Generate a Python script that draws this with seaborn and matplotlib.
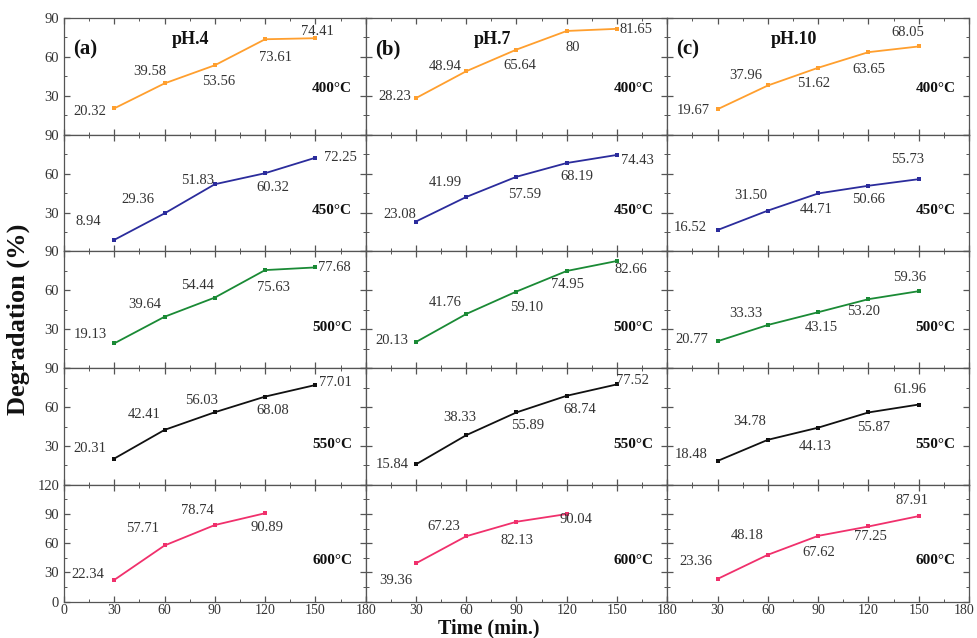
import matplotlib
matplotlib.use("Agg")
import matplotlib.pyplot as plt
from matplotlib.ticker import MultipleLocator
from matplotlib.transforms import ScaledTranslation
import numpy as np
import pandas as pd
import seaborn as sns

# ---- data -----------------------------------------------------------------
times = [30, 60, 90, 120, 150]
temperatures = [400, 450, 500, 550, 600]
ph_levels = ["pH.4", "pH.7", "pH.10"]
panel_tags = ["(a)", "(b)", "(c)"]

# degradation (%) at each calcination temperature, as printed on the points
ph4_400 = ["20.32", "39.58", "53.56", "73.61", "74.41"]
ph4_450 = ["8.94", "29.36", "51.83", "60.32", "72.25"]
ph4_500 = ["19.13", "39.64", "54.44", "75.63", "77.68"]
ph4_550 = ["20.31", "42.41", "56.03", "68.08", "77.01"]
ph4_600 = ["22.34", "57.71", "78.74", "90.89"]

ph7_400 = ["28.23", "48.94", "65.64", "80", "81.65"]
ph7_450 = ["23.08", "41.99", "57.59", "68.19", "74.43"]
ph7_500 = ["20.13", "41.76", "59.10", "74.95", "82.66"]
ph7_550 = ["15.84", "38.33", "55.89", "68.74", "77.52"]
ph7_600 = ["39.36", "67.23", "82.13", "90.04"]

ph10_400 = ["19.67", "37.96", "51.62", "63.65", "68.05"]
ph10_450 = ["16.52", "31.50", "44.71", "50.66", "55.73"]
ph10_500 = ["20.77", "33.33", "43.15", "53.20", "59.36"]
ph10_550 = ["18.48", "34.78", "44.13", "55.87", "61.96"]
ph10_600 = ["23.36", "48.18", "67.62", "77.25", "87.91"]

series = {
    "pH.4": [ph4_400, ph4_450, ph4_500, ph4_550, ph4_600],
    "pH.7": [ph7_400, ph7_450, ph7_500, ph7_550, ph7_600],
    "pH.10": [ph10_400, ph10_450, ph10_500, ph10_550, ph10_600],
}

rows = []
for ph in ph_levels:
    for temp, vals in zip(temperatures, series[ph]):
        for t, v in zip(times, vals):
            rows.append({"pH": ph, "temp": temp, "time": t,
                         "deg": float(v), "label": v})
df = pd.DataFrame(rows)

# ---- styling --------------------------------------------------------------
line_colors = {400: "#FF9F2E", 450: "#2B2C9C", 500: "#1A8A35",
               550: "#111111", 600: "#F0306C"}

# value-label offsets (pixels) relative to each point
label_offsets = {
    "pH.4": [
        [(-24, -3), (-15, 12), (4, -16), (10, -18), (2, 7)],
        [(-26, 18), (-27, 14), (-17, 4), (8, -14), (25, 0)],
        [(-24, 9), (-20, 12), (-17, 12), (8, -17), (19, 0)],
        [(-24, 10), (-20, 15), (-13, 12), (8, -14), (20, 3)],
        [(-26, 5), (-22, 17), (-17, 15), (2, -14)],
    ],
    "pH.7": [
        [(-21, 2), (-21, 5), (3, -16), (6, -17), (19, -1)],
        [(-16, 7), (-21, 14), (8, -18), (10, -13), (20, -6)],
        [(-24, 2), (-21, 12), (10, -16), (1, -14), (14, -9)],
        [(-24, 0), (-6, 18), (11, -13), (13, -14), (15, 4)],
        [(-20, -17), (-22, 10), (1, -19), (9, -5)],
    ],
    "pH.10": [
        [(-24, -1), (-22, 10), (-5, -16), (0, -17), (-11, 14)],
        [(-27, 3), (-17, 15), (-2, -16), (0, -14), (-11, 20)],
        [(-26, 2), (-22, 11), (3, -15), (-5, -12), (-9, 14)],
        [(-26, 6), (-18, 18), (-3, -19), (5, -15), (-9, 15)],
        [(-22, 17), (-21, 19), (1, -17), (2, -10), (-7, 16)],
    ],
}

sns.set_style("ticks")
plt.rcParams["font.family"] = ["Liberation Serif", "DejaVu Serif"]
plt.rcParams["axes.edgecolor"] = "#555555"
plt.rcParams["axes.linewidth"] = 0.9

fig, axes = plt.subplots(5, 3, figsize=(9.77, 6.38), dpi=100)
fig.subplots_adjust(left=0.0655, right=0.9918, top=0.9718, bottom=0.057,
                    hspace=0, wspace=0)

text_color = "#333333"

for c, ph in enumerate(ph_levels):
    for r, temp in enumerate(temperatures):
        ax = axes[r, c]
        sub = df[(df.pH == ph) & (df.temp == temp)]
        sns.lineplot(data=sub, x="time", y="deg", ax=ax,
                     color=line_colors[temp], linewidth=1.3,
                     marker="s", markersize=3.5, markeredgewidth=0,
                     legend=False)
        for (x, y, lab), (dx, dy) in zip(
                sub[["time", "deg", "label"]].itertuples(index=False),
                label_offsets[ph][r]):
            ax.annotate(lab, (x, y), xytext=(dx, dy),
                        textcoords="offset pixels", ha="center",
                        va="center", fontsize=10.5, color=text_color)

        ymax = 120 if r == 4 else 90
        ax.set_xlim(0, 180)
        ax.set_ylim(0, ymax)
        ax.set_xticks(np.arange(0, 181, 30))
        ax.set_yticks(np.arange(0, ymax + 1, 30))
        ax.xaxis.set_minor_locator(MultipleLocator(15))
        ax.yaxis.set_minor_locator(MultipleLocator(15))
        ax.tick_params(which="both", direction="in", top=True, right=True,
                       colors="#555555", labelcolor=text_color,
                       labelsize=10.5)
        ax.tick_params(which="major", length=4, width=0.9)
        ax.tick_params(which="minor", length=2, width=0.7)
        ax.tick_params(axis="x", pad=1.5, labelsize=10)

        if r == 4:
            xl = [str(v) for v in range(0, 181, 30)]
            if c > 0:
                xl[0] = ""
            ax.set_xticklabels(xl)
        else:
            ax.set_xticklabels([])
        if c == 0:
            yl = [str(v) for v in range(0, ymax + 1, 30)]
            if r < 4:
                yl[0] = ""
            ax.set_yticklabels(yl)
        else:
            ax.set_yticklabels([])
        ax.set_xlabel("")
        ax.set_ylabel("")

        ty = 0.40 if r == 0 else 0.35
        ax.text(0.955, ty, f"{temp}°C", transform=ax.transAxes,
                ha="right", va="center", fontsize=11, fontweight="bold",
                color="#111111")

    top = axes[0, c]
    top.text(0.03, 0.73, panel_tags[c], transform=top.transAxes,
             ha="left", va="center", fontsize=15, fontweight="bold",
             color="#111111")
    top.text(0.42, 0.815, ph, transform=top.transAxes,
             ha="center", va="center", fontsize=13, fontweight="bold",
             color="#111111")

# nudge the final "180" so it stays inside the canvas
last_lab = axes[4, 2].get_xticklabels()[-1]
last_lab.set_transform(last_lab.get_transform() +
                       ScaledTranslation(-5 / 100, 0, fig.dpi_scale_trans))

fig.text(0.019, 0.5, "Degradation (%)", rotation=90, ha="center",
         va="center", fontsize=19, fontweight="bold", color="#111111")
fig.text(0.5, 0.0, "Time (min.)", ha="center", va="bottom",
         fontsize=14.5, fontweight="bold", color="#111111")

fig.savefig("out.png", dpi=100)
